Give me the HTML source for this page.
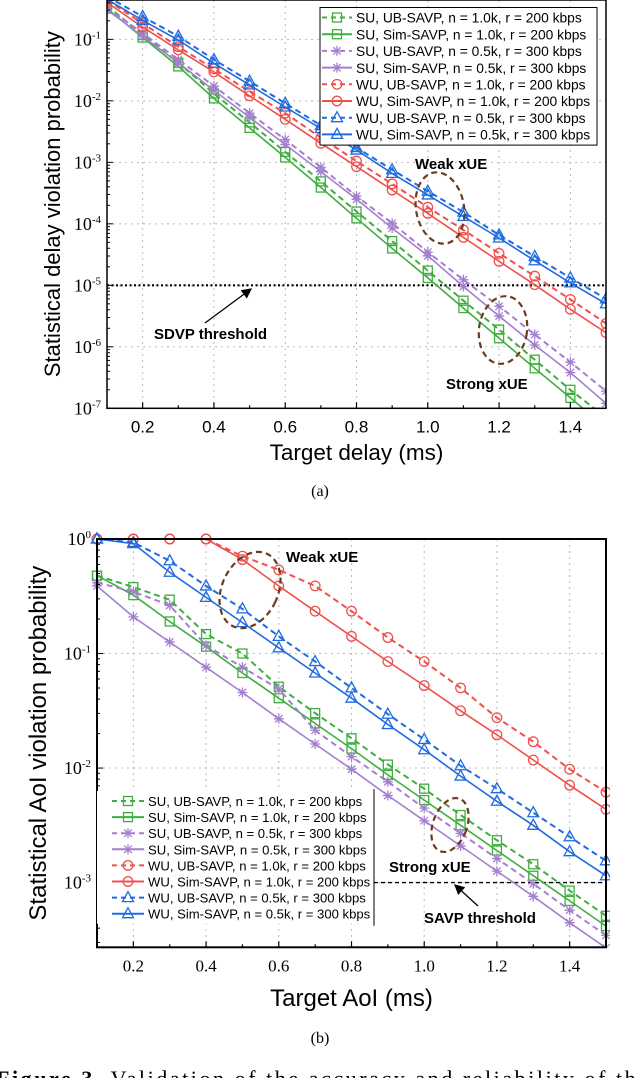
<!DOCTYPE html>
<html><head><meta charset="utf-8"><style>
html,body{margin:0;padding:0;background:#fff;}
svg{display:block;}
</style></head><body>
<svg id="fig" width="640" height="1078" viewBox="0 0 640 1078" xmlns="http://www.w3.org/2000/svg">
<defs>
<clipPath id="clipA"><rect x="107" y="0" width="499" height="408.3"/></clipPath>
<clipPath id="clipB"><rect x="90" y="530" width="520" height="417.3"/></clipPath>
<marker id="arrowhead" markerWidth="8" markerHeight="8" refX="7" refY="4" orient="auto"><path d="M0,0 L8,4 L0,8 z" fill="#000"/></marker>
</defs>
<g id="chartA"></g>
<g id="chartB"></g>
<text x="320" y="496" font-family="Liberation Serif, serif" font-size="16" text-anchor="middle">(a)</text>
<text x="320" y="1043" font-family="Liberation Serif, serif" font-size="16" text-anchor="middle">(b)</text>
<text x="-4" y="1086" font-family="Liberation Serif, serif" font-size="22" textLength="652" lengthAdjust="spacing"><tspan font-weight="bold">Figure 3.</tspan> Validation of the accuracy and reliability of the</text>
</svg>
<script>
// x categories (ms)
const xVals = [0.1,0.2,0.3,0.4,0.5,0.6,0.7,0.8,0.9,1.0,1.1,1.2,1.3,1.4,1.5];
const xTickLabels = ["0.2","0.4","0.6","0.8","1.0","1.2","1.4"];
const xTickVals = [0.2,0.4,0.6,0.8,1.0,1.2,1.4];
// Chart (a): log10 of statistical delay violation probability
const aSuUb  = [-0.45,-0.93,-1.38,-1.88,-2.35,-2.83,-3.31,-3.80,-4.28,-4.76,-5.25,-5.72,-6.21,-6.70,-7.15];
const aSuSim = [-0.50,-0.97,-1.44,-1.96,-2.44,-2.92,-3.41,-3.91,-4.40,-4.88,-5.37,-5.86,-6.35,-6.83,-7.32];
const aSu2Ub = [-0.48,-0.90,-1.33,-1.76,-2.20,-2.63,-3.08,-3.55,-3.99,-4.46,-4.91,-5.34,-5.80,-6.25,-6.72];
const aSu2Sim= [-0.52,-0.95,-1.38,-1.83,-2.27,-2.71,-3.15,-3.60,-4.07,-4.52,-5.02,-5.50,-5.97,-6.42,-6.92];
const aWuUb  = [-0.36,-0.74,-1.12,-1.48,-1.85,-2.20,-2.60,-2.98,-3.35,-3.73,-4.10,-4.48,-4.85,-5.23,-5.62];
const aWuSim = [-0.40,-0.80,-1.17,-1.53,-1.92,-2.30,-2.69,-3.07,-3.45,-3.83,-4.22,-4.61,-4.99,-5.39,-5.77];
const aWu2Ub = [-0.30,-0.63,-0.95,-1.33,-1.68,-2.04,-2.40,-2.76,-3.12,-3.47,-3.81,-4.18,-4.53,-4.88,-5.22];
const aWu2Sim= [-0.35,-0.69,-1.01,-1.39,-1.74,-2.10,-2.45,-2.80,-3.18,-3.53,-3.88,-4.23,-4.60,-4.96,-5.30];
const aYTickExp = [-1,-2,-3,-4,-5,-6,-7];
const aThresholdExp = -5;
// Chart (b): log10 of statistical AoI violation probability
const bSuUb  = [-0.32,-0.42,-0.53,-0.83,-1.00,-1.29,-1.52,-1.74,-1.97,-2.18,-2.41,-2.63,-2.84,-3.07,-3.29];
const bSuSim = [-0.32,-0.49,-0.72,-0.94,-1.17,-1.39,-1.61,-1.83,-2.06,-2.28,-2.50,-2.72,-2.94,-3.16,-3.38];
const bSu2Ub = [-0.38,-0.46,-0.58,-0.93,-1.12,-1.31,-1.67,-1.90,-2.12,-2.35,-2.57,-2.79,-3.01,-3.24,-3.46];
const bSu2Sim= [-0.41,-0.68,-0.90,-1.12,-1.34,-1.57,-1.79,-2.01,-2.24,-2.46,-2.68,-2.90,-3.12,-3.35,-3.57];
const bWuUb  = [0,0,0,0,-0.15,-0.27,-0.41,-0.63,-0.86,-1.07,-1.30,-1.56,-1.77,-2.01,-2.21];
const bWuSim = [0,0,0,0,-0.18,-0.41,-0.63,-0.85,-1.07,-1.28,-1.50,-1.71,-1.93,-2.15,-2.36];
const bWu2Ub = [0,-0.03,-0.19,-0.41,-0.61,-0.85,-1.07,-1.30,-1.53,-1.75,-1.98,-2.18,-2.39,-2.60,-2.81];
const bWu2Sim= [0,-0.04,-0.29,-0.51,-0.73,-0.95,-1.17,-1.39,-1.62,-1.84,-2.07,-2.29,-2.50,-2.73,-2.94];
const bYTickExp = [0,-1,-2,-3];
const bThresholdExp = -3;
const legendLabels = [
 "SU, UB-SAVP,  n = 1.0k, r = 200 kbps","SU, Sim-SAVP, n = 1.0k, r = 200 kbps",
 "SU, UB-SAVP,  n = 0.5k, r = 300 kbps","SU, Sim-SAVP, n = 0.5k, r = 300 kbps",
 "WU, UB-SAVP,  n = 1.0k, r = 200 kbps","WU, Sim-SAVP, n = 1.0k, r = 200 kbps",
 "WU, UB-SAVP,  n = 0.5k, r = 300 kbps","WU, Sim-SAVP, n = 0.5k, r = 300 kbps"];

const NS="http://www.w3.org/2000/svg";
function mk(tag,attrs,parent){const e=document.createElementNS(NS,tag);for(const k in attrs)e.setAttribute(k,attrs[k]);if(parent)parent.appendChild(e);return e;}
const GREEN="#3fae3f",PURPLE="#a57fcf",RED="#f0504c",BLUE="#1f6be0";
const styles=[
 {c:GREEN,d:true,m:"sq"},{c:GREEN,d:false,m:"sq"},
 {c:PURPLE,d:true,m:"star"},{c:PURPLE,d:false,m:"star"},
 {c:RED,d:true,m:"circ"},{c:RED,d:false,m:"circ"},
 {c:BLUE,d:true,m:"tri"},{c:BLUE,d:false,m:"tri"}];

function marker(g,type,x,y,c){
  let e;
  if(type==="sq"){e=mk("rect",{x:x-4.5,y:y-4.5,width:9,height:9,fill:"none",stroke:c,"stroke-width":1.3},g);}
  else if(type==="circ"){e=mk("circle",{cx:x,cy:y,r:4.8,fill:"none",stroke:c,"stroke-width":1.3},g);}
  else if(type==="tri"){e=mk("polygon",{points:`${x},${y-6} ${x-5.5},${y+4} ${x+5.5},${y+4}`,fill:"none",stroke:c,"stroke-width":1.3},g);}
  else {e=mk("path",{d:`M${x-5},${y}H${x+5}M${x},${y-5}V${y+5}M${x-3.7},${y-3.7}L${x+3.7},${y+3.7}M${x-3.7},${y+3.7}L${x+3.7},${y-3.7}`,stroke:c,"stroke-width":1.3,fill:"none"},g);}
  
  
  return e;
}

function drawChart(opts){
  const root=document.getElementById(opts.id);
  const {L,R,T,B,yTop,yBot}=opts;
  const xs=v=>L+(v-0.1)/1.4*(R-L);
  const ys=e=>T+(yTop-e)/(yTop-yBot)*(B-T);
  const grid=mk("g",{},root);
   
  xTickVals.forEach(v=>mk("line",{x1:xs(v),x2:xs(v),y1:T,y2:B,stroke:"#bbb","stroke-dasharray":"2,4","stroke-width":1},grid));
  opts.yTicks.forEach(e=>{if(ys(e)>T+2&&ys(e)<B-2)mk("line",{x1:L,x2:R,y1:ys(e),y2:ys(e),stroke:"#bbb","stroke-dasharray":"2,4","stroke-width":1},grid);});
  const th=mk("line",{x1:opts.thX1,x2:R,y1:ys(opts.threshold),y2:ys(opts.threshold),stroke:"#000","stroke-width":opts.thW,"stroke-dasharray":opts.thDash},root);
   
  const sg=mk("g",{"clip-path":`url(#${opts.clip})`},root);
   
  opts.series.forEach((s,i)=>{
    const st=styles[i];
    const pts=s.map((e,j)=>`${xs(xVals[j]).toFixed(1)},${ys(e).toFixed(1)}`).join(" ");
    const pl=mk("polyline",{points:pts,fill:"none",stroke:st.c,"stroke-width":st.d?2:1.6,"stroke-dasharray":st.d?"6,4":"none"},sg);
    
    
    s.forEach((e,j)=>marker(sg,st.m,xs(xVals[j]),ys(e),st.c));
  });
  const fr=mk("rect",{x:L,y:T,width:R-L,height:B-T,fill:"none",stroke:"#000","stroke-width":opts.frameW},root);
   
  xVals.forEach((v,j)=>{const major=j%2===1;mk("line",{x1:xs(v),x2:xs(v),y1:B,y2:B-(major?6:3),stroke:"#000","stroke-width":1.2},root);});
  xTickVals.forEach((v,j)=>{
    const t=mk("text",{x:xs(v),y:B+24,"font-family":opts.xFont,"font-size":17,"text-anchor":"middle"},root);
    t.textContent=xTickLabels[j];
     
  });
  for(let d=Math.ceil(yBot)-1;d<=Math.ceil(yTop);d++){
    for(let k=1;k<10;k++){const e=d+Math.log10(k);if(e<yBot||e>yTop)continue;
      mk("line",{x1:L,x2:L+(k===1?6:3),y1:ys(e),y2:ys(e),stroke:"#000","stroke-width":1},root);}
  }
  opts.yTicks.forEach(e=>{
    const t=mk("text",{x:L-6,y:ys(e)+6,"font-family":"Liberation Serif, serif","font-size":18,"text-anchor":"end"},root);
     
    const a=mk("tspan",{},t); a.textContent="10";
    const b=mk("tspan",{dy:-7,"font-size":11}); b.textContent=String(e); t.appendChild(b);
  });
  const xt=mk("text",{x:(L+R)/2,y:opts.xTitleY,"font-family":"Liberation Sans, sans-serif","font-size":opts.xTitleFs,"text-anchor":"middle"},root);
  xt.textContent=opts.xTitle;  
  const yt=mk("text",{x:0,y:0,transform:`translate(${opts.yTitleX},${(T+B)/2}) rotate(-90)`,"font-family":"Liberation Sans, sans-serif","font-size":opts.yTitleFs,"text-anchor":"middle"},root);
  yt.textContent=opts.yTitle;  
  const lg=mk("g",{},root);
   
  const Lg=opts.legend;
  if(Lg.box){mk("rect",{x:Lg.x,y:Lg.y0-10,width:Lg.w,height:Lg.step*8+4,fill:"#fff",stroke:"#000","stroke-width":1},lg);}
  else{mk("rect",{x:Lg.x,y:Lg.y0-10,width:Lg.w,height:Lg.step*8+4,fill:"#fff",stroke:"none"},lg);
       mk("line",{x1:Lg.x+Lg.w,x2:Lg.x+Lg.w,y1:Lg.y0-12,y2:Lg.y0+Lg.step*8-4,stroke:"#000","stroke-width":1},lg);}
  legendLabels.forEach((lab,i)=>{
    const st=styles[i],y=Lg.y0+i*Lg.step;
    const row=mk("g",{},lg);
     
    mk("line",{x1:Lg.x+Lg.lx,x2:Lg.x+Lg.lx+Lg.len,y1:y,y2:y,stroke:st.c,"stroke-width":2,"stroke-dasharray":st.d?"5,4":"none"},row);
    marker(row,st.m,Lg.x+Lg.lx+Lg.len/2,y,st.c);
    const t=mk("text",{x:Lg.x+Lg.lx+Lg.len+4,y:y+Lg.fs*0.38,"font-family":"Liberation Sans, sans-serif","font-size":Lg.fs,"xml:space":"preserve"},row);
    t.textContent=lab;
  });
  return {xs,ys};
}

drawChart({id:"chartA",clip:"clipA",L:107,R:606,T:0,B:408.3,yTop:-0.36,yBot:-7,
  series:[aSuUb,aSuSim,aSu2Ub,aSu2Sim,aWuUb,aWuSim,aWu2Ub,aWu2Sim],yTicks:aYTickExp,threshold:aThresholdExp,
  thX1:107,thW:2.2,thDash:"2,2.5",frameW:1.5,xFont:"Liberation Sans, sans-serif",
  xTitle:"Target delay (ms)",xTitleY:460,xTitleFs:22.5,yTitle:"Statistical delay violation probability",yTitleX:60,yTitleFs:22,
  legend:{box:true,x:320,y0:17.5,step:16.7,w:277,lx:2,len:30,fs:13.8}});
drawChart({id:"chartB",clip:"clipB",L:97,R:606,T:539,B:947.3,yTop:0,yBot:-3.565,
  series:[bSuUb,bSuSim,bSu2Ub,bSu2Sim,bWuUb,bWuSim,bWu2Ub,bWu2Sim],yTicks:bYTickExp,threshold:bThresholdExp,
  thX1:374,thW:1.4,thDash:"4,3",frameW:2,xFont:"Liberation Serif, serif",
  xTitle:"Target AoI (ms)",xTitleY:1006,xTitleFs:24,yTitle:"Statistical AoI violation probability",yTitleX:46,yTitleFs:24,
  legend:{box:false,x:97,y0:801,step:16.1,w:277,lx:15,len:32,fs:13.1}});

function ann(txt,x,y,fs,name){const t=mk("text",{x:x,y:y,"font-family":"Liberation Sans, sans-serif","font-size":fs,"font-weight":"bold"},document.getElementById("fig"));t.textContent=txt;}
function ell(cx,cy,rx,ry,rot,name){const e=mk("ellipse",{cx:cx,cy:cy,rx:rx,ry:ry,transform:`rotate(${rot} ${cx} ${cy})`,fill:"none",stroke:"#6b3b1f","stroke-width":2.2,"stroke-dasharray":"6,4"},document.getElementById("fig"));}
function arrow(x1,y1,x2,y2,name){const l=mk("line",{x1:x1,y1:y1,x2:x2,y2:y2,stroke:"#000","stroke-width":1.3,"marker-end":"url(#arrowhead)"},document.getElementById("fig"));}
ann("Weak xUE",415,169,15,"weak-xue-label-a");
ell(440,208,24,36,-10,"weak-xue-ellipse-a");
ann("Strong xUE",446,389,15,"strong-xue-label-a");
ell(503,330,24,34,8,"strong-xue-ellipse-a");
ann("SDVP threshold",154,339,15,"sdvp-threshold-label");
arrow(205,323,251,289,"sdvp-threshold-arrow");
ann("Weak xUE",286,562,15,"weak-xue-label-b");
ell(250,590,28,40,25,"weak-xue-ellipse-b");
ann("Strong xUE",389,872,15,"strong-xue-label-b");
ell(450,825,17,28,20,"strong-xue-ellipse-b");
ann("SAVP threshold",424,923,15,"savp-threshold-label");
arrow(478,906,455,885,"savp-threshold-arrow");
</script>
</body></html>
